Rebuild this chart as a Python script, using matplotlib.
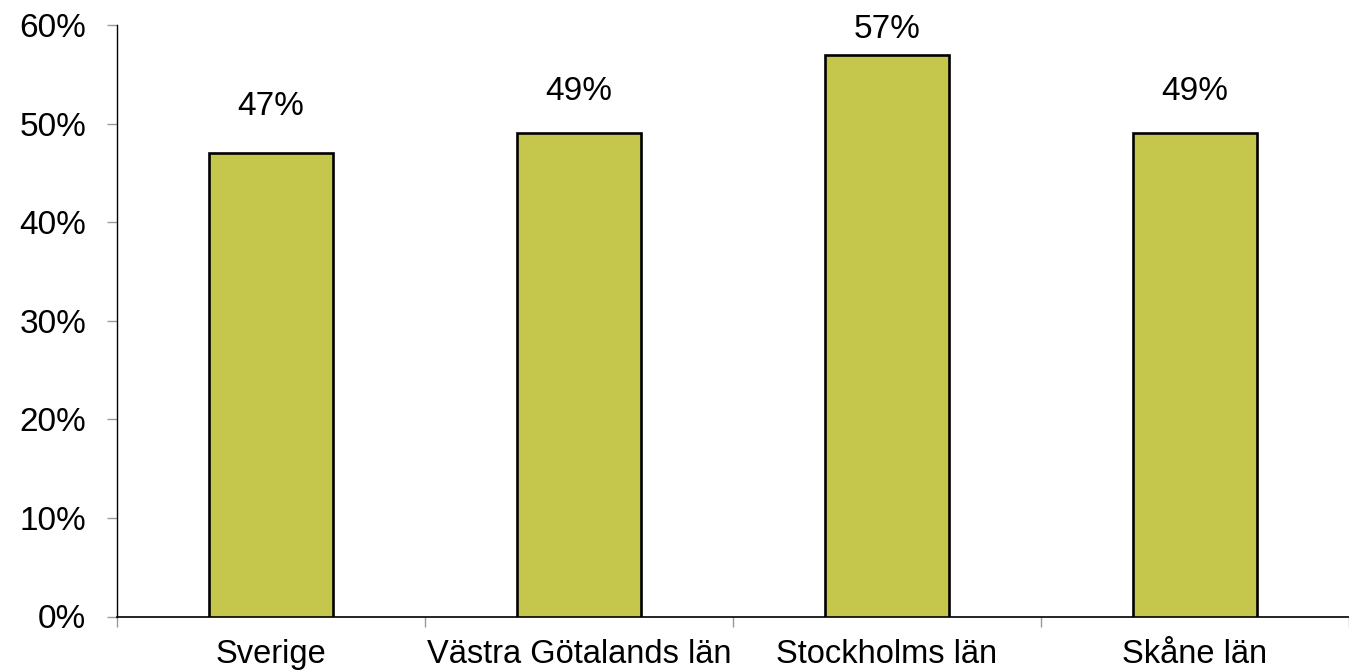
import matplotlib
matplotlib.use("Agg")
import matplotlib.pyplot as plt
from matplotlib.ticker import PercentFormatter

plt.rcParams['font.family'] = ['Liberation Sans', 'DejaVu Sans']

categories = ["Sverige", "Västra Götalands län", "Stockholms län", "Skåne län"]
values = [0.47, 0.49, 0.57, 0.49]
value_labels = ["47%", "49%", "57%", "49%"]
yticks = [0, 0.1, 0.2, 0.3, 0.4, 0.5, 0.6]

label_gap_px = [38, 33, 17, 33]

fig = plt.figure(figsize=(13.49, 6.72), dpi=100)
ax = fig.add_axes([117/1349, 1 - 616.5/672, 1 - 117/1349, (616.5 - 25)/672])

x = list(range(len(categories)))
ax.bar(x, values, width=0.4, color='#C4C74B', edgecolor='black', linewidth=1.9, zorder=3)

for xi, v, lab, g in zip(x, values, value_labels, label_gap_px):
    ax.annotate(lab, (xi, v), xytext=(0, g * 0.72), textcoords='offset points',
                ha='center', va='baseline', fontsize=24, color='black')

ax.set_ylim(0, 0.6)
ax.set_xlim(-0.5, -0.5 + 1232/310)
ax.set_yticks(yticks)
ax.yaxis.set_major_formatter(PercentFormatter(1.0, decimals=0))
ax.set_xticks([i - 0.5 for i in range(len(categories) + 1)])
ax.set_xticklabels([])
ax.set_xticks(x, minor=True)
ax.set_xticklabels(categories, minor=True)

ax.tick_params(axis='x', which='major', length=7, color='#999999', width=1)
ax.tick_params(axis='x', which='minor', length=0, pad=16, labelsize=23.5)
ax.tick_params(axis='y', which='major', length=7, color='#999999', width=1, pad=15, labelsize=24)

for s in ['top', 'right']:
    ax.spines[s].set_visible(False)
ax.spines['left'].set_linewidth(1)
ax.spines['bottom'].set_linewidth(1.2)

fig.savefig("out.png", dpi=100)
